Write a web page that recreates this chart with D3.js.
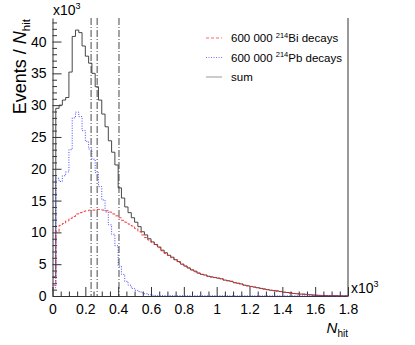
<!DOCTYPE html>
<html>
<head>
<meta charset="utf-8">
<script src="https://cdn.jsdelivr.net/npm/d3@7"></script>
<style>
  body { margin: 0; background: #fff; }
  svg { font-family: "Liberation Sans", Arial, sans-serif; }
</style>
</head>
<body>
<svg id="chart" width="415" height="345"></svg>
<script>
// Histogram contents, x10^3 events per bin, bins of 20 hits from 0 to 1800 (x10^3 on axis)
const binWidth = 0.02;

const biDecays = [
  1.7, 10.1, 11.1, 11.4, 11.8, 12.2, 12.5, 12.9, 13.1, 13.3,
  13.4, 13.5, 13.5, 13.6, 13.6, 13.5, 13.4, 13.2, 12.9, 12.6,
  12.3, 11.9, 11.6, 11.3, 11.0, 10.6, 10.1, 9.6, 9.2, 8.8,
  8.4, 8.0, 7.6, 7.1, 6.7, 6.4, 6.0, 5.7, 5.3, 5.0,
  4.7, 4.4, 4.1, 3.8, 3.6, 3.4, 3.3, 3.1, 3.0, 2.9,
  2.8, 2.7, 2.5, 2.4, 2.3, 2.1, 2.0, 1.85, 1.7, 1.6,
  1.5, 1.4, 1.3, 1.2, 1.1, 1.0, 0.9, 0.85, 0.75, 0.7,
  0.6, 0.55, 0.45, 0.4, 0.35, 0.3, 0.27, 0.22, 0.18, 0.14,
  0.1, 0.08, 0.06, 0.04, 0.03, 0.02, 0.01, 0.01, 0, 0
];

const pbDecays = [
  1.3, 18.5, 18.0, 18.9, 19.5, 23.0, 28.0, 28.9, 28.2, 26.0,
  24.3, 23.1, 21.5, 19.4, 17.2, 15.1, 13.2, 11.2, 9.7, 7.9,
  4.7, 3.4, 2.3, 1.7, 1.2, 0.9, 0.7, 0.5, 0.35, 0.2,
  0.12, 0.08, 0.06, 0.05, 0.05, 0.05, 0.04, 0.04, 0.04, 0.04,
  0.04, 0.04, 0.04, 0.03, 0.03, 0.03, 0.03, 0.03, 0.03, 0.03,
  0.03, 0.03, 0.03, 0.03, 0.02, 0.02, 0.02, 0.02, 0.02, 0.02,
  0.02, 0.02, 0.02, 0.02, 0.02, 0.02, 0.02, 0.02, 0.02, 0.02,
  0.02, 0.02, 0.02, 0.02, 0.02, 0.02, 0.02, 0.02, 0.02, 0.02,
  0.02, 0.02, 0.02, 0.02, 0.02, 0.02, 0.02, 0.02, 0.02, 0.02
];

const sumDecays = [
  3.0, 29.5, 30.0, 30.8, 31.2, 35.2, 40.8, 41.8, 41.4, 39.3,
  37.7, 36.6, 35.0, 32.9, 30.8, 28.6, 26.6, 24.4, 22.6, 20.6,
  17.0, 15.4, 14.0, 13.1, 12.3, 11.6, 10.9, 10.1, 9.6, 9.0,
  8.5, 8.1, 7.7, 7.2, 6.8, 6.4, 6.1, 5.7, 5.4, 5.0,
  4.7, 4.4, 4.1, 3.9, 3.6, 3.4, 3.3, 3.1, 3.0, 2.9,
  2.8, 2.7, 2.5, 2.4, 2.3, 2.1, 2.0, 1.9, 1.7, 1.6,
  1.5, 1.4, 1.3, 1.2, 1.1, 1.0, 0.9, 0.85, 0.8, 0.7,
  0.6, 0.55, 0.5, 0.4, 0.35, 0.3, 0.3, 0.25, 0.2, 0.15,
  0.12, 0.1, 0.08, 0.06, 0.05, 0.05, 0.04, 0.03, 0.02, 0.02
];

// vertical dash-dot cut lines
const cutLines = [0.235, 0.272, 0.405];

const xTicks = [0, 0.2, 0.4, 0.6, 0.8, 1, 1.2, 1.4, 1.6, 1.8];
const yTicks = [0, 5, 10, 15, 20, 25, 30, 35, 40];

const svg = d3.select("#chart");

const x = d3.scaleLinear().domain([0, 1.8]).range([52.5, 348]);
const y = d3.scaleLinear().domain([0, 43.7]).range([296, 18]);

// minor ticks
const xMinor = d3.range(0, 1.8001, 0.05).filter(v => Math.abs(v / 0.2 - Math.round(v / 0.2)) > 1e-6);
const yMinor = d3.range(0, 44, 1).filter(v => v % 5 !== 0);

svg.append("g")
  .attr("transform", `translate(0,${y(0)})`)
  .call(d3.axisBottom(x).tickValues(xMinor).tickSize(-4.5).tickFormat(""))
  .call(g => g.select(".domain").remove());

svg.append("g")
  .attr("transform", `translate(${x(0)},0)`)
  .call(d3.axisLeft(y).tickValues(yMinor).tickSize(-4.5).tickFormat(""))
  .call(g => g.select(".domain").remove());

// major axes
const xAxis = svg.append("g")
  .attr("transform", `translate(0,${y(0)})`)
  .call(d3.axisBottom(x).tickValues(xTicks).tickSize(-9).tickSizeOuter(0)
    .tickPadding(8).tickFormat(d => String(+d.toFixed(1))));

const yAxis = svg.append("g")
  .attr("transform", `translate(${x(0)},0)`)
  .call(d3.axisLeft(y).tickValues(yTicks).tickSize(-9).tickSizeOuter(0)
    .tickPadding(6));

[xAxis, yAxis].forEach(g => {
  g.selectAll("text").attr("font-size", 14).attr("fill", "#000")
    .attr("font-family", "Liberation Sans, Arial, sans-serif");
});

svg.selectAll(".tick line").attr("stroke", "#333");
svg.selectAll(".domain").attr("stroke", "#333");

// right frame edge
svg.append("line")
  .attr("x1", x(1.8)).attr("x2", x(1.8))
  .attr("y1", y.range()[1]).attr("y2", y(0))
  .attr("stroke", "#333");

// histograms
function histPoints(values) {
  const pts = values.map((v, i) => [i * binWidth, v]);
  pts.push([values.length * binWidth, values[values.length - 1]]);
  return pts;
}

const stepLine = d3.line()
  .x(d => x(d[0]))
  .y(d => y(d[1]))
  .curve(d3.curveStepAfter);

const series = [
  { values: sumDecays, color: "#333", dash: null, w: 0.9 },
  { values: biDecays, color: "#f22", dash: "3,2", w: 0.9 },
  { values: pbDecays, color: "#33f", dash: "1,1.5", w: 0.9 }
];

series.forEach(s => {
  svg.append("path")
    .datum(histPoints(s.values))
    .attr("d", stepLine)
    .attr("fill", "none")
    .attr("stroke", s.color)
    .attr("stroke-width", s.w)
    .attr("stroke-dasharray", s.dash);
});

// cut lines
svg.selectAll(".cut")
  .data(cutLines)
  .join("line")
  .attr("class", "cut")
  .attr("x1", d => x(d)).attr("x2", d => x(d))
  .attr("y1", y.range()[1]).attr("y2", y(0))
  .attr("stroke", "#333")
  .attr("stroke-width", 0.9)
  .attr("stroke-dasharray", "7,2,1,2");

// legend
const legend = [
  { iso: "214", name: "Bi decays", color: "#f66", dash: "3,2" },
  { iso: "214", name: "Pb decays", color: "#77f", dash: "1,1.5" },
  { iso: null, name: "sum", color: "#999", dash: null }
];

legend.forEach((d, i) => {
  const yy = 38 + i * 19.5;
  svg.append("line")
    .attr("x1", 206).attr("x2", 222)
    .attr("y1", yy).attr("y2", yy)
    .attr("stroke", d.color)
    .attr("stroke-dasharray", d.dash);
  const t = svg.append("text")
    .attr("x", 231).attr("y", yy + 4)
    .attr("font-size", 11.5);
  if (d.iso) {
    t.append("tspan").text("600 000 ");
    t.append("tspan").attr("font-size", 7.5).attr("dy", -4.5).text(d.iso);
    t.append("tspan").attr("dy", 4.5).text(d.name);
  } else {
    t.text(d.name);
  }
});

// exponent labels
function exponent(xx, yy) {
  const t = svg.append("text").attr("x", xx).attr("y", yy).attr("font-size", 14);
  t.append("tspan").text("x10");
  t.append("tspan").attr("font-size", 9).attr("dy", -6).text("3");
}
exponent(53, 15);
exponent(351, 293);

// axis titles
const yTitle = svg.append("text")
  .attr("transform", "translate(26,19) rotate(-90)")
  .attr("text-anchor", "end")
  .attr("font-size", 18);
yTitle.append("tspan").text("Events / ");
yTitle.append("tspan").attr("font-style", "italic").text("N");
yTitle.append("tspan").attr("font-size", 11.5).attr("dy", 4).text("hit");

const xTitle = svg.append("text")
  .attr("x", 348).attr("y", 333)
  .attr("text-anchor", "end")
  .attr("font-size", 15);
xTitle.append("tspan").attr("font-style", "italic").text("N");
xTitle.append("tspan").attr("font-size", 10).attr("dy", 4).text("hit");
</script>
</body>
</html>
